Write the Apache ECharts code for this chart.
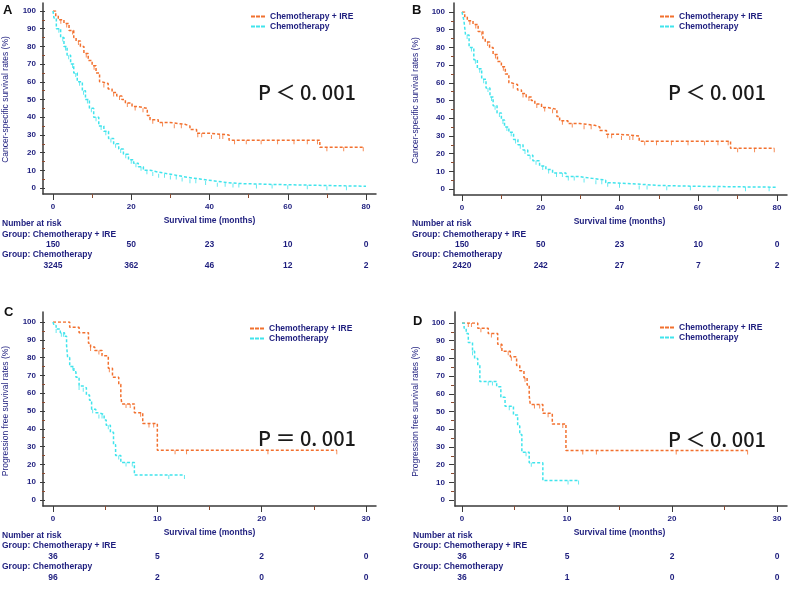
<!DOCTYPE html>
<html>
<head>
<meta charset="utf-8">
<script src="https://cdn.jsdelivr.net/npm/echarts@6/dist/echarts.min.js"></script>
<style>html,body{margin:0;padding:0;background:#fff}#c{width:789px;height:597px}</style>
</head>
<body>
<div id="c"></div>
<script>
// ---------- DATA ----------
const seriesNames = ['Chemotherapy + IRE', 'Chemotherapy'];

// Panel A (cancer-specific survival)
const aIreTime  = [0,0.7,1.35,2.8,4.1,5.3,5.9,7.0,7.9,9.0,10.0,11.0,11.9,12.5,14.1,15.1,16.3,17.6,18.5,20.2,21.8,24.1,24.8,26.9,29.9,33.7,35.0,36.7,39.6,45.0,68.2,79.3];
const aIreSurv  = [100,97,95,93,89,85,83,80,76,72,69,65,60,59,56,54,52,50,48,46,45,41,38.5,37,36,35,33,31,30,27,23,23];
const aIreCens  = [2,3.5,5,6.5,8.5,10.5,13,15.5,17,19,21,23,25.5,28,31,32.8,37,38,40.5,42.6,43.4,46.4,49.4,53.2,57.4,61.6,65,67.6,70,74.3,79.3];
const aChTime   = [0,0.25,0.85,1.95,2.8,3.6,4.5,5.3,6.2,7.5,8.3,9.3,10.4,11.7,13.0,14.2,15.5,16.8,18.0,19.3,20.6,21.8,23.1,24.8,26.9,29.5,32.0,34.5,37.9,41.3,44.7,48.1,56.6,67.6,80];
const aChSurv   = [100,96,90,85,80,75,70,65,60,55,50,45,40,35,32,28,25,22,19,16,14,12,10,9,8,7,6,5,4,3,2.5,2,1.5,1,1];
const aChCens   = [1.5,2.5,3.2,4,5,5.8,6.8,7.8,8.8,9.8,11,12.3,13.5,14.8,16,17.3,18.6,20,21.2,22.5,24,25.5,27,28.5,30,31.5,33,35,36.5,39,42,44,46,47.5,52,56,60,65,70,75];

// Panel B (cancer-specific survival, matched)
const bIreTime  = [0,0.7,1.35,2.8,4.1,5.3,5.9,7.0,7.9,9.0,10.0,11.0,11.9,12.5,14.1,15.1,16.3,17.6,18.5,20.2,21.8,24.1,24.8,26.9,29.9,33.7,35.0,36.7,39.6,45.0,68.2,79.3];
const bIreSurv  = [100,97,95,93,89,85,83,80,76,72,69,65,60,59,56,54,52,50,48,46,45,41,38.5,37,36,35,33,31,30,27,23,23];
const bIreCens  = [2,3.5,5,6.5,8.5,10.5,13,15.5,17,19,21,23,25.5,28,31,32.8,37,38,40.5,42.6,43.4,46.4,49.4,53.2,57.4,61.6,65,67.6,70,74.3,79.3];
const bChTime   = [0,0.5,0.9,1.8,3.0,3.9,5.0,6.1,7.1,7.9,8.9,10.0,10.8,11.9,13.1,14.2,15.5,16.7,18.0,19.7,21.3,23.0,26.4,29.7,33.1,36.5,38.2,43.2,49.9,60,80];
const bChSurv   = [100,95,87,80,73,68,62,57,52,47,43,39,35,32,28,25,22,19,16,13,11,9,7,6,5,3.5,3,2,1.5,1,1];
const bChCens   = [1.3,2.4,3.4,4.5,5.5,6.6,7.5,8.4,9.5,10.4,11.4,12.5,13.6,14.8,16,17.3,18.8,20.5,22,24,25.5,27,28.5,31,34,35.5,37,40,45,47,52,58,65,72,78];

// Panel C (progression free survival)
const cIreTime  = [0,1.6,2.5,3.4,3.6,4.0,4.7,5.3,5.7,6.3,6.5,6.6,7.8,8.6,10.0,27.2];
const cIreSurv  = [100,97,94,88,86,84,81,74,69,65,58,54,49,43,28,28];
const cIreCens  = [3.6,4.4,5.4,7.0,7.4,8.4,9.2,9.65,11.7,12.8,20.6,27.2];
const cChTime   = [0,0.1,0.3,0.7,1.1,1.3,1.4,1.6,2.0,2.2,2.5,2.9,3.2,3.5,3.7,4.1,4.4,4.9,5.1,5.5,5.8,6.0,6.5,7.8,12.6];
const cChSurv   = [100,98,96,94,92,87,80,75,72,69,64,63,59,56,51,49,48,45,42,38,31,25,21,14,14];
const cChCens   = [0.3,0.8,1.0,1.9,2.5,2.9,3.8,4.4,4.7,5.3,6.3,7.0,7.6,11.1,12.6];

// Panel D (progression free survival, matched)
const dIreTime  = [0,1.5,2.5,3.4,3.8,4.6,5.2,5.5,5.9,6.2,6.4,6.5,7.7,8.6,9.9,27.2];
const dIreSurv  = [100,97,94,88,84,81,76,73,69,65,59,54,49,43,28,28];
const dIreCens  = [0.6,0.9,1.8,2.8,3.7,4.4,4.7,6.0,6.9,7.4,8.2,9.6,11.5,12.8,20.4,27.2];
const dChTime   = [0,0.2,0.4,0.6,1.0,1.2,1.5,1.7,3.3,3.7,4.1,4.9,5.3,5.5,5.7,6.4,7.7,11.1];
const dChSurv   = [100,97,94,89,84,80,76,67,64,58,53,48,42,37,27,21,11,11];
const dChCens   = [1.0,2.5,2.9,4.5,6.1,6.6,10.1,11.1];

// Number at risk
const aRiskIre = [150,50,23,10,0];  const aRiskCh = [3245,362,46,12,2];
const bRiskIre = [150,50,23,10,0];  const bRiskCh = [2420,242,27,7,2];
const cRiskIre = [36,5,2,0];        const cRiskCh = [96,2,0,0];
const dRiskIre = [36,5,2,0];        const dRiskCh = [36,1,0,0];

// Axis ranges / labels
const osXMax = 80, osXInterval = 20;
const pfsXMax = 30, pfsXInterval = 10;
const yMax = 100, yInterval = 10;
const pTexts = ['P \uFF1C 0. 001', 'P \uFF1C 0. 001', 'P \uFF1D 0. 001', 'P \uFF1C 0. 001'];
const yNames = ['Cancer-specific survival rates (%)', 'Cancer-specific survival rates (%)',
                'Progression free survival rates (%)', 'Progression free survival rates (%)'];
const letters = ['A','B','C','D'];
const xName = 'Survival time (months)';

// ---------- STYLE ----------
const FONT = '"Liberation Sans", Arial, sans-serif';
const NAVY = '#1e1e7e';
const ORANGE = '#f2702e';
const CYAN = '#40e4ec';
const AXIS = '#3a3a3a';
const BROWN = '#8a4a30';
const dashIcon = 'path://M0,0h4v2h-4zM5,0h4v2h-4zM10,0h4v2h-4z';

function steps(t, s) { return t.map((x, i) => [x, s[i]]); }
function survAt(t, s, x) { let v = s[0]; for (let i = 0; i < t.length; i++) if (t[i] <= x) v = s[i]; return v; }

const grids = [], xAxes = [], yAxes = [], series = [], legends = [], graphics = [];

const panels = [
  { ire:[aIreTime,aIreSurv,aIreCens], ch:[aChTime,aChSurv,aChCens], risk:[aRiskIre,aRiskCh], xMax:osXMax, xInt:osXInterval,
    frame:{left:43,top:3,width:333,height:191}, grid:{left:51,top:11,width:315,height:177},
    legend:{left:251,top:12}, textX:2, rowY:[224,235,255], letterPos:[3,10], pPos:[258,92], yGap:35 },
  { ire:[bIreTime,bIreSurv,bIreCens], ch:[bChTime,bChSurv,bChCens], risk:[bRiskIre,bRiskCh], xMax:osXMax, xInt:osXInterval,
    frame:{left:454,top:3,width:333,height:192}, grid:{left:462,top:12,width:315,height:177},
    legend:{left:660,top:12}, textX:412, rowY:[224,235,255], letterPos:[412,10], pPos:[668,92], yGap:34 },
  { ire:[cIreTime,cIreSurv,cIreCens], ch:[cChTime,cChSurv,cChCens], risk:[cRiskIre,cRiskCh], xMax:pfsXMax, xInt:pfsXInterval,
    frame:{left:43,top:312,width:333,height:194}, grid:{left:50,top:322,width:316,height:178},
    legend:{left:250,top:324}, textX:2, rowY:[536,546,567], letterPos:[4,312], pPos:[258,438], yGap:35 },
  { ire:[dIreTime,dIreSurv,dIreCens], ch:[dChTime,dChSurv,dChCens], risk:[dRiskIre,dRiskCh], xMax:pfsXMax, xInt:pfsXInterval,
    frame:{left:455,top:312,width:332,height:194}, grid:{left:462,top:323,width:315,height:177},
    legend:{left:660,top:323}, textX:413, rowY:[536,546,567], letterPos:[413,321], pPos:[668,439], yGap:34 }
];

const tickLabel = { fontFamily: FONT, fontSize: 8, fontWeight: 'bold', color: NAVY };

panels.forEach((p, k) => {
  const fi = grids.length; grids.push(p.frame);
  const gi = grids.length; grids.push(p.grid);
  const hidden = { axisTick:{show:false}, axisLabel:{show:false}, splitLine:{show:false} };
  // frame axes (lines only)
  xAxes.push(Object.assign({ gridIndex:fi, type:'value', min:0, max:1, position:'bottom',
    axisLine:{show:true, onZero:false, lineStyle:{color:AXIS, width:1.5}} }, hidden));
  yAxes.push(Object.assign({ gridIndex:fi, type:'value', min:0, max:1, position:'left',
    axisLine:{show:true, onZero:false, lineStyle:{color:AXIS, width:1.5}} }, hidden));
  // main data axes
  const xi = xAxes.length;
  xAxes.push({ gridIndex:gi, type:'value', min:0, max:p.xMax, interval:p.xInt, position:'bottom', offset:6,
    axisLine:{show:false, onZero:false},
    axisTick:{show:true, length:6, lineStyle:{color:AXIS, width:1}},
    minorTick:{show:true, splitNumber:2, length:4, lineStyle:{color:BROWN, width:1}},
    axisLabel:Object.assign({margin:9}, tickLabel), splitLine:{show:false},
    name:xName, nameLocation:'middle', nameGap:22,
    nameTextStyle:{fontFamily:FONT, fontSize:8.5, fontWeight:'bold', color:NAVY} });
  const yi = yAxes.length;
  yAxes.push({ gridIndex:gi, type:'value', min:0, max:yMax, interval:yInterval, position:'left', offset:8,
    axisLine:{show:false, onZero:false},
    axisTick:{show:true, length:5, lineStyle:{color:AXIS, width:1}},
    minorTick:{show:true, splitNumber:2, length:3, lineStyle:{color:BROWN, width:1}},
    axisLabel:Object.assign({margin:9}, tickLabel), splitLine:{show:false},
    name:yNames[k], nameLocation:'middle', nameGap:p.yGap,
    nameTextStyle:{fontFamily:FONT, fontSize:8.5, color:NAVY} });
  // number-at-risk rows as label-only axes
  p.risk.forEach((arr, r) => {
    xAxes.push({ gridIndex:gi, type:'value', min:0, max:p.xMax, interval:p.xInt, position:'bottom',
      offset:(p.rowY[0] - p.grid.top - p.grid.height) + 16 + r*21,
      axisLine:{show:false, onZero:false}, axisTick:{show:false}, splitLine:{show:false},
      axisLabel:Object.assign({margin:0, formatter:(v)=>String(arr[Math.round(v / p.xInt)])},
        {fontFamily:FONT, fontSize:8.5, fontWeight:'bold', color:NAVY}) });
  });
  // curves
  [[p.ire, ORANGE, seriesNames[0]], [p.ch, CYAN, seriesNames[1]]].forEach(([d, col, nm]) => {
    series.push({ type:'line', name:nm, xAxisIndex:xi, yAxisIndex:yi, data:steps(d[0], d[1]), step:'end',
      symbol:'none', showSymbol:false, silent:true, z:3,
      lineStyle:{color:col, width:1.5, type:[3,2]}, itemStyle:{color:col} });
    series.push({ type:'scatter', name:nm + ' censored', xAxisIndex:xi, yAxisIndex:yi,
      data:d[2].map(c => [c, survAt(d[0], d[1], c)]), symbol:'rect', symbolSize:[1,4], symbolOffset:[0,2],
      silent:true, z:4, itemStyle:{color:col} });
  });
  legends.push({ data:seriesNames, left:p.legend.left, top:p.legend.top, orient:'vertical', padding:0,
    itemWidth:14, itemHeight:2, itemGap:1, icon:dashIcon, selectedMode:false,
    textStyle:{fontFamily:FONT, fontSize:8.5, fontWeight:'bold', color:NAVY} });
  // texts
  const rowTexts = ['Number at risk', 'Group: ' + seriesNames[0], 'Group: ' + seriesNames[1]];
  rowTexts.forEach((t, r) => graphics.push({ type:'text', x:p.textX, y:p.rowY[r], silent:true,
    style:{text:t, fontFamily:FONT, fontSize:8.5, fontWeight:'bold', fill:NAVY, verticalAlign:'middle'} }));
  graphics.push({ type:'text', x:p.letterPos[0], y:p.letterPos[1], silent:true,
    style:{text:letters[k], fontFamily:FONT, fontSize:13, fontWeight:'bold', fill:'#111', verticalAlign:'middle'} });
  graphics.push({ type:'text', x:p.pPos[0], y:p.pPos[1], silent:true,
    style:{text:pTexts[k], fontFamily:'"Noto Sans CJK SC", sans-serif', fontSize:20, fontWeight:500, fill:'#1a1a1a', verticalAlign:'middle'} });
});

const chart = echarts.init(document.getElementById('c'), null, {renderer:'canvas'});
chart.setOption({
  animation:false, backgroundColor:'#fff',
  grid:grids, xAxis:xAxes, yAxis:yAxes, series:series, legend:legends, graphic:graphics
});
</script>
</body>
</html>
